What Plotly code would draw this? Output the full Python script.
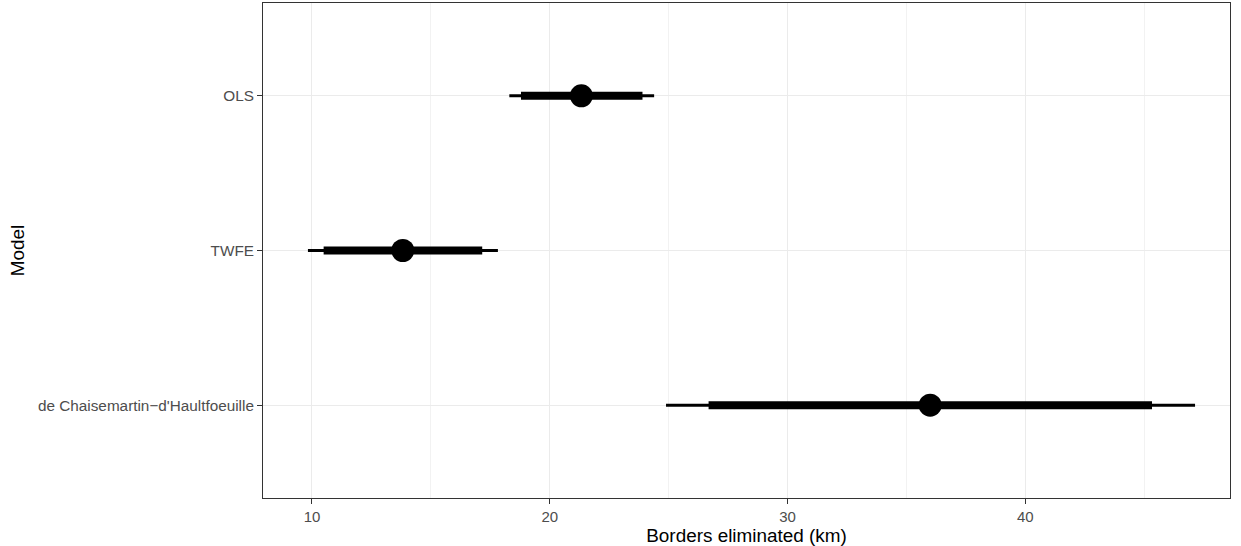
import plotly.graph_objects as go

models = ["de Chaisemartin\u2212d'Haultfoeuille", "TWFE", "OLS"]
estimate = [36.0, 13.82, 21.33]
ci_outer_low = [24.89, 9.83, 18.30]
ci_outer_high = [47.14, 17.82, 24.39]
ci_inner_low = [26.68, 10.49, 18.79]
ci_inner_high = [45.33, 17.16, 23.90]

fig = go.Figure()
for i, m in enumerate(models):
    fig.add_trace(go.Scatter(x=[ci_outer_low[i], ci_outer_high[i]], y=[m, m], mode="lines",
                             line=dict(color="black", width=3), showlegend=False, hoverinfo="skip"))
    fig.add_trace(go.Scatter(x=[ci_inner_low[i], ci_inner_high[i]], y=[m, m], mode="lines",
                             line=dict(color="black", width=8), showlegend=False, hoverinfo="skip"))
fig.add_trace(go.Scatter(x=estimate, y=models, mode="markers",
                         marker=dict(color="black", size=23, line=dict(width=0)), showlegend=False))

fig.update_layout(
    width=1241, height=546,
    margin=dict(l=263, r=11, t=3, b=48),
    paper_bgcolor="white", plot_bgcolor="white",
    font=dict(family="Liberation Sans, Arial, sans-serif", color="black"),
    xaxis=dict(
        range=[7.94, 48.61], tickvals=[10, 20, 30, 40], ticktext=["10", "20", "30", "40"],
        showgrid=True, gridcolor="#EBEBEB", gridwidth=1.2,
        minor=dict(tickvals=[15, 25, 35, 45], showgrid=True, gridcolor="#F2F2F2", gridwidth=0.7, ticks=""),
        ticks="outside", ticklen=5, tickcolor="#333333", tickwidth=1,
        tickfont=dict(size=15, color="#4D4D4D"),
        showline=True, linecolor="#333333", linewidth=1, mirror=True, zeroline=False,
        automargin=False,
        title=dict(text="Borders eliminated (km)", font=dict(size=18.9, color="black"), standoff=4),
    ),
    yaxis=dict(
        type="category", categoryorder="array", categoryarray=models,
        range=[-0.6, 2.6],
        showgrid=True, gridcolor="#EBEBEB", gridwidth=1.2,
        ticks="outside", ticklen=5, tickcolor="#333333", tickwidth=1,
        tickfont=dict(size=15.3, color="#4D4D4D"),
        showline=True, linecolor="#333333", linewidth=1, mirror=True, zeroline=False,
        automargin=True,
        title=dict(text="Model", font=dict(size=18.9, color="black"), standoff=8),
    ),
)
fig.write_html("out.html")
